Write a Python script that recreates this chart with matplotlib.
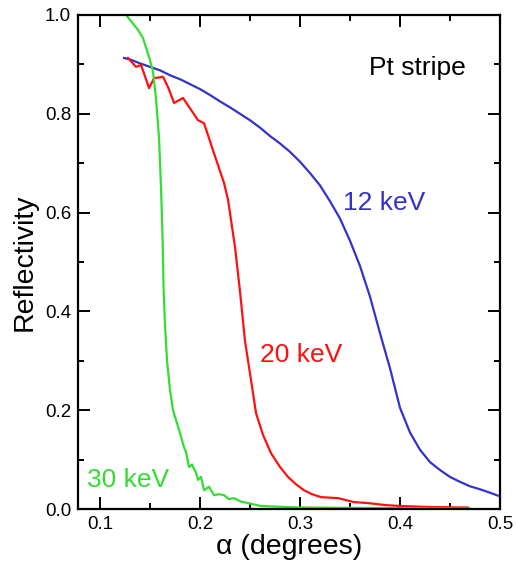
import matplotlib
matplotlib.use('Agg')
import matplotlib.pyplot as plt
from matplotlib.ticker import MultipleLocator

# ── Data ─────────────────────────────────────────────────────────────────────

alpha_12 = [0.124, 0.13, 0.14, 0.15, 0.16, 0.17, 0.18, 0.19, 0.20, 0.21, 0.22,
            0.23, 0.24, 0.25, 0.26, 0.27, 0.28, 0.29, 0.30, 0.31, 0.32, 0.33,
            0.34, 0.35, 0.36, 0.37, 0.38, 0.39, 0.40, 0.41, 0.42, 0.43, 0.44,
            0.45, 0.46, 0.47, 0.48, 0.49, 0.498]
refl_12 = [0.913, 0.91, 0.902, 0.895, 0.888, 0.878, 0.87, 0.86, 0.85, 0.838,
           0.825, 0.813, 0.80, 0.787, 0.772, 0.755, 0.74, 0.723, 0.703, 0.68,
           0.655, 0.623, 0.588, 0.543, 0.492, 0.43, 0.356, 0.285, 0.205, 0.155,
           0.12, 0.095, 0.079, 0.065, 0.055, 0.046, 0.04, 0.033, 0.027]

alpha_20 = [0.128, 0.136, 0.141, 0.149, 0.154, 0.163, 0.168, 0.174, 0.183,
            0.198, 0.204, 0.214, 0.224, 0.228, 0.231, 0.235, 0.240, 0.245,
            0.251, 0.256, 0.263, 0.271, 0.280, 0.288, 0.296, 0.304, 0.312,
            0.321, 0.338, 0.354, 0.368, 0.385, 0.401, 0.43, 0.468]
refl_20 = [0.913, 0.895, 0.899, 0.852, 0.872, 0.875, 0.854, 0.822, 0.832,
           0.787, 0.781, 0.72, 0.66, 0.626, 0.585, 0.53, 0.44, 0.34,
           0.261, 0.194, 0.15, 0.113, 0.085, 0.065, 0.05, 0.038, 0.03,
           0.024, 0.022, 0.014, 0.012, 0.008, 0.006, 0.004, 0.003]

alpha_30 = [0.126, 0.130, 0.138, 0.143, 0.149, 0.153, 0.156, 0.159, 0.161,
            0.1625, 0.1635, 0.165, 0.167, 0.170, 0.173, 0.176, 0.179, 0.181,
            0.184, 0.186, 0.189, 0.192, 0.196, 0.198, 0.201, 0.204, 0.209,
            0.214, 0.219, 0.224, 0.229, 0.234, 0.241, 0.248, 0.261, 0.30,
            0.38, 0.47]
refl_30 = [1.0, 0.99, 0.97, 0.953, 0.915, 0.885, 0.83, 0.75, 0.65,
           0.55, 0.45, 0.37, 0.30, 0.24, 0.20, 0.18, 0.16, 0.146,
           0.125, 0.115, 0.085, 0.09, 0.073, 0.059, 0.065, 0.038, 0.045,
           0.028, 0.03, 0.028, 0.02, 0.022, 0.015, 0.012, 0.006, 0.003,
           0.002, 0.001]

# label, x, y, colour, text anchor (data coords, left/baseline)
series = [
    ("12 keV", alpha_12, refl_12, "#3333cc", (0.3426, 0.605)),
    ("20 keV", alpha_20, refl_20, "#ff1010", (0.260, 0.298)),
    ("30 keV", alpha_30, refl_30, "#33dd33", (0.087, 0.045)),
]

plt.rcParams['font.family'] = ['Liberation Sans', 'DejaVu Sans']

fig = plt.figure(figsize=(5.17, 5.66), dpi=100)
ax = fig.add_axes([0.151, 0.1007, 0.816, 0.8728])

for label, x, y, color, (tx, ty) in series:
    ax.plot(x, y, color=color, linewidth=1.6)
    ax.text(tx, ty, label, color=color, fontsize=19, ha='left', va='baseline')

ax.text(0.417, 0.879, "Pt stripe", fontsize=19, ha='center', va='baseline')

ax.set_xlim(0.078, 0.5)
ax.set_ylim(0.0, 1.0)
ax.xaxis.set_major_locator(MultipleLocator(0.1))
ax.xaxis.set_minor_locator(MultipleLocator(0.05))
ax.yaxis.set_major_locator(MultipleLocator(0.2))
ax.yaxis.set_minor_locator(MultipleLocator(0.1))
ax.tick_params(which='both', direction='in', top=True, right=True,
               width=1.4, labelsize=13.5, pad=5)
ax.tick_params(which='major', length=8.5)
ax.tick_params(which='minor', length=4)
ax.set_xticks([0.1, 0.2, 0.3, 0.4, 0.5])
ax.set_xticklabels(["0.1", "0.2", "0.3", "0.4", "0.5"])
ax.set_yticks([0.0, 0.2, 0.4, 0.6, 0.8, 1.0])
ax.set_yticklabels(["0.0", "0.2", "0.4", "0.6", "0.8", "1.0"])
for s in ax.spines.values():
    s.set_linewidth(1.6)

ax.set_xlabel("α (degrees)", fontsize=20.5, labelpad=1)
ax.set_ylabel("Reflectivity", fontsize=20.5, labelpad=5)

fig.savefig("out.png", dpi=100)
